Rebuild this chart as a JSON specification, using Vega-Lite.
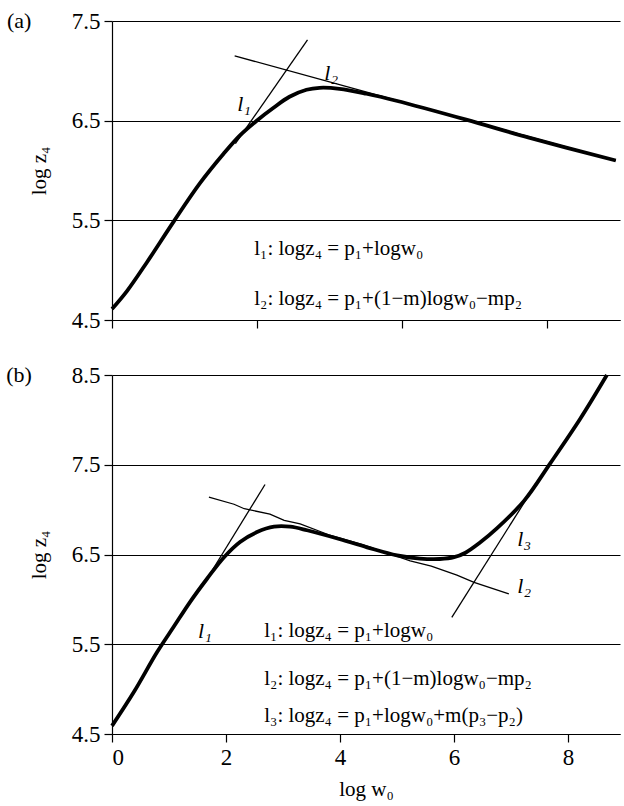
{
  "$schema": "https://vega.github.io/schema/vega-lite/v6.json",
  "padding": {"left": 6, "top": 10, "right": 0, "bottom": 5},
  "background": "white",
  "config": {
    "view": {"stroke": null},
    "font": "Liberation Serif",
    "axis": {
      "labelFont": "Liberation Serif", "labelFontSize": 23, "labelColor": "black",
      "titleFont": "Liberation Serif", "titleFontSize": 21, "titleFontWeight": "normal", "titleColor": "black",
      "domainColor": "black", "tickColor": "black", "gridColor": "black", "gridOpacity": 1,
      "domainWidth": 1.2, "tickWidth": 1.2, "gridWidth": 1, "tickSize": 8
    },
    "concat": {"spacing": 32}
  },
  "datasets": {
    "curveA": [
      {"x": 0, "y": 4.61}, {"x": 0.103, "y": 4.79}, {"x": 0.241, "y": 5.08}, {"x": 0.426, "y": 5.49},
      {"x": 0.605, "y": 5.87}, {"x": 0.77, "y": 6.17}, {"x": 0.88, "y": 6.35}, {"x": 0.997, "y": 6.5},
      {"x": 1.113, "y": 6.63}, {"x": 1.223, "y": 6.74}, {"x": 1.34, "y": 6.81}, {"x": 1.43, "y": 6.83},
      {"x": 1.567, "y": 6.82}, {"x": 1.753, "y": 6.77}, {"x": 1.959, "y": 6.7}, {"x": 2.44, "y": 6.51},
      {"x": 2.873, "y": 6.33}, {"x": 3.471, "y": 6.1}
    ],
    "thinA": [
      {"line": "l1", "x": 0.85, "y": 6.27}, {"line": "l1", "x": 1.347, "y": 7.31},
      {"line": "l2", "x": 0.845, "y": 7.15}, {"line": "l2", "x": 3.471, "y": 6.1}
    ],
    "labA": [
      {"x": 0.91, "y": 6.67, "t": "l₁"},
      {"x": 1.51, "y": 6.98, "t": "l₂"}
    ],
    "eqA": [
      {"x": 0.98, "y": 5.21, "t": "l₁: logz₄ = p₁+logw₀"},
      {"x": 0.98, "y": 4.71, "t": "l₂: logz₄ = p₁+(1−m)logw₀−mp₂"}
    ],
    "panA": [{"x": -0.64, "y": 7.5, "t": "(a)"}],
    "curveB": [
      {"x": 0, "y": 4.59}, {"x": 0.386, "y": 4.97}, {"x": 0.789, "y": 5.41}, {"x": 1.088, "y": 5.7},
      {"x": 1.368, "y": 5.97}, {"x": 1.667, "y": 6.23}, {"x": 1.965, "y": 6.47}, {"x": 2.246, "y": 6.64},
      {"x": 2.544, "y": 6.75}, {"x": 2.842, "y": 6.81}, {"x": 3.123, "y": 6.81}, {"x": 3.421, "y": 6.77},
      {"x": 4.0, "y": 6.67}, {"x": 4.474, "y": 6.58}, {"x": 5.0, "y": 6.49}, {"x": 5.4, "y": 6.455},
      {"x": 5.75, "y": 6.45}, {"x": 6.0, "y": 6.47}, {"x": 6.2, "y": 6.52}, {"x": 6.45, "y": 6.63},
      {"x": 6.75, "y": 6.79}, {"x": 7.23, "y": 7.1}, {"x": 7.68, "y": 7.51}, {"x": 8.21, "y": 8.01},
      {"x": 8.68, "y": 8.5}
    ],
    "thinB": [
      {"line": "l1", "x": 1.6, "y": 6.16}, {"line": "l1", "x": 2.684, "y": 7.28},
      {"line": "l2", "x": 1.7, "y": 7.14}, {"line": "l2", "x": 2.14, "y": 7.06}, {"line": "l2", "x": 2.32, "y": 7.01},
      {"line": "l2", "x": 2.77, "y": 6.95}, {"line": "l2", "x": 3.02, "y": 6.88}, {"line": "l2", "x": 3.3, "y": 6.84},
      {"line": "l2", "x": 3.8, "y": 6.72}, {"line": "l2", "x": 4.4, "y": 6.61}, {"line": "l2", "x": 4.9, "y": 6.5},
      {"line": "l2", "x": 5.23, "y": 6.43}, {"line": "l2", "x": 5.6, "y": 6.37}, {"line": "l2", "x": 6.05, "y": 6.27},
      {"line": "l2", "x": 6.35, "y": 6.19}, {"line": "l2", "x": 6.96, "y": 6.06},
      {"line": "l3", "x": 5.96, "y": 5.8}, {"line": "l3", "x": 7.5, "y": 7.35}
    ],
    "labB": [
      {"x": 1.63, "y": 5.65, "t": "l₁"},
      {"x": 7.23, "y": 6.67, "t": "l₃"},
      {"x": 7.23, "y": 6.15, "t": "l₂"}
    ],
    "eqB": [
      {"x": 2.67, "y": 5.65, "t": "l₁: logz₄ = p₁+logw₀"},
      {"x": 2.67, "y": 5.11, "t": "l₂: logz₄ = p₁+(1−m)logw₀−mp₂"},
      {"x": 2.67, "y": 4.7, "t": "l₃: logz₄ = p₁+logw₀+m(p₃−p₂)"}
    ],
    "panB": [{"x": -1.63, "y": 8.5, "t": "(b)"}]
  },
  "vconcat": [
    {
      "width": 508, "height": 299,
      "encoding": {
        "x": {"field": "x", "type": "quantitative", "scale": {"domain": [0, 3.5], "nice": false},
          "axis": {"values": [0, 1, 2, 3], "labels": false, "grid": false, "title": null}},
        "y": {"field": "y", "type": "quantitative", "scale": {"domain": [4.5, 7.5], "nice": false, "zero": false},
          "axis": {"values": [4.5, 5.5, 6.5, 7.5], "grid": true, "format": ".1f", "title": "log z₄", "titlePadding": 22, "labelPadding": 4}}
      },
      "layer": [
        {"data": {"name": "thinA"}, "mark": {"type": "line", "color": "black", "strokeWidth": 1.3, "clip": false}, "encoding": {"detail": {"field": "line"}}},
        {"data": {"name": "curveA"}, "mark": {"type": "line", "color": "black", "strokeWidth": 3.8, "interpolate": "catmull-rom"}},
        {"data": {"name": "labA"}, "mark": {"type": "text", "font": "Liberation Serif", "fontSize": 22, "fontStyle": "italic", "align": "center", "baseline": "middle"}, "encoding": {"text": {"field": "t"}}},
        {"data": {"name": "eqA"}, "mark": {"type": "text", "font": "Liberation Serif", "fontSize": 21, "align": "left", "baseline": "middle"}, "encoding": {"text": {"field": "t"}}},
        {"data": {"name": "panA"}, "mark": {"type": "text", "font": "Liberation Serif", "fontSize": 22, "align": "center", "baseline": "middle"}, "encoding": {"text": {"field": "t"}}}
      ]
    },
    {
      "width": 508, "height": 359,
      "encoding": {
        "x": {"field": "x", "type": "quantitative", "scale": {"domain": [0, 8.91], "nice": false},
          "axis": {"values": [0, 2, 4, 6, 8], "grid": false, "title": "log w₀", "titlePadding": 9, "labelPadding": 4}},
        "y": {"field": "y", "type": "quantitative", "scale": {"domain": [4.5, 8.5], "nice": false, "zero": false},
          "axis": {"values": [4.5, 5.5, 6.5, 7.5, 8.5], "grid": true, "format": ".1f", "title": "log z₄", "titlePadding": 22, "labelPadding": 4}}
      },
      "layer": [
        {"data": {"name": "thinB"}, "mark": {"type": "line", "color": "black", "strokeWidth": 1.3}, "encoding": {"detail": {"field": "line"}}},
        {"data": {"name": "curveB"}, "mark": {"type": "line", "color": "black", "strokeWidth": 3.8, "interpolate": "catmull-rom"}},
        {"data": {"name": "labB"}, "mark": {"type": "text", "font": "Liberation Serif", "fontSize": 22, "fontStyle": "italic", "align": "center", "baseline": "middle"}, "encoding": {"text": {"field": "t"}}},
        {"data": {"name": "eqB"}, "mark": {"type": "text", "font": "Liberation Serif", "fontSize": 21, "align": "left", "baseline": "middle"}, "encoding": {"text": {"field": "t"}}},
        {"data": {"name": "panB"}, "mark": {"type": "text", "font": "Liberation Serif", "fontSize": 22, "align": "center", "baseline": "middle"}, "encoding": {"text": {"field": "t"}}}
      ]
    }
  ]
}
